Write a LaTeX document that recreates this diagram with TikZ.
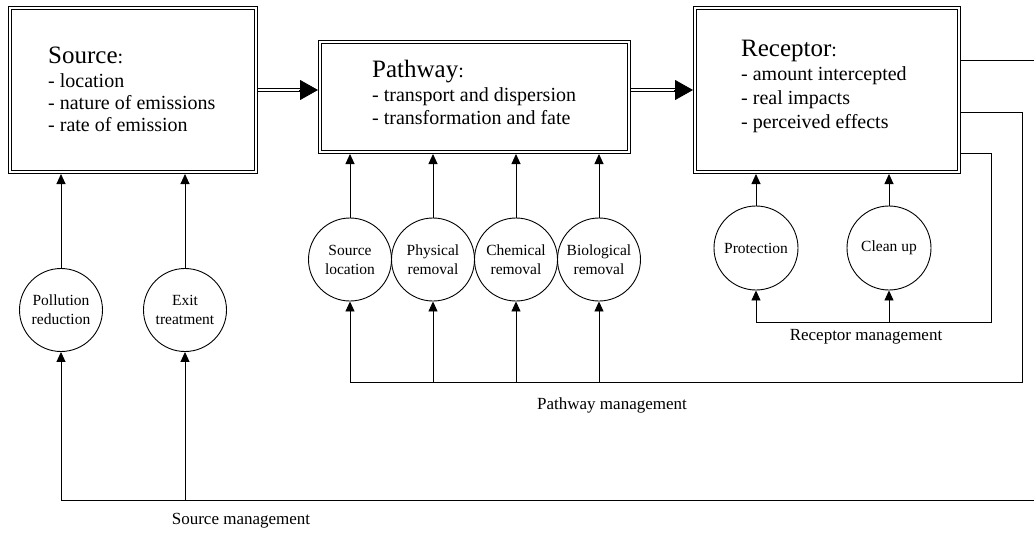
\documentclass[tikz,border=0pt]{standalone}
\usepackage{fontspec}
\setmainfont{Liberation Serif}
\usetikzlibrary{arrows.meta}
\tikzset{
 box/.style={draw, double, double distance=2pt, line width=1pt, inner sep=0pt, outer sep=2pt},
 circ/.style={draw, circle, line width=0.9pt, minimum size=83pt, inner sep=0pt, align=center, font=\fontsize{15.5}{19}\selectfont},
 conn/.style={line width=0.9pt},
 arr/.style={conn, -{Triangle[length=10pt,width=9pt]}},
 bigtip/.style={line width=0.8pt, -{Triangle[length=18pt,width=20pt]}},
 dbl/.style={line width=0.8pt, double, double distance=2.2pt},
 head/.style={anchor=base west, font=\fontsize{25}{30}\selectfont, inner sep=0pt},
 item/.style={anchor=base west, font=\fontsize{20}{24}\selectfont, inner sep=0pt},
 lab/.style={font=\fontsize{17}{20}\selectfont, inner sep=0pt},
}
\begin{document}
\begin{tikzpicture}[x=1pt,y=-1pt]
\useasboundingbox (0,0) rectangle (1034,533);
% boxes
\node[box, minimum width=246pt, minimum height=164pt] (src) at (133,90) {};
\node[box, minimum width=309pt, minimum height=110pt] (pw) at (474.5,97) {};
\node[box, minimum width=264pt, minimum height=164pt] (rec) at (827,90) {};
% box texts
\node[head] (srch) at (48,63) {Source{\fontsize{20}{24}\selectfont:}};
\node[item] (src1) at (48,87) {- location};
\node[item] (src2) at (48,109) {- nature of emissions};
\node[item] (src3) at (48,131) {- rate of emission};
\node[head] (pwh) at (372,77) {Pathway{\fontsize{20}{24}\selectfont:}};
\node[item] (pw1) at (372,101) {- transport and dispersion};
\node[item] (pw2) at (372,124) {- transformation and fate};
\node[head] (rech) at (741,56) {Receptor{\fontsize{20}{24}\selectfont:}};
\node[item] (rec1) at (741,80) {- amount intercepted};
\node[item] (rec2) at (741,104) {- real impacts};
\node[item] (rec3) at (741,128) {- perceived effects};
% main arrows
\draw[dbl] (src.east) -- ([xshift=-17pt]src.east -| pw.west);
\draw[bigtip] ([xshift=-19pt]src.east -| pw.west) -- (src.east -| pw.west);
\draw[dbl] (pw.east |- rec.west) -- ([xshift=-17pt]rec.west);
\draw[bigtip] ([xshift=-19pt]rec.west) -- (rec.west);
% circles
\node[circ] (pr) at (61,310) {Pollution\\reduction};
\node[circ] (et) at (185,310) {Exit\\treatment};
\node[circ] (sl) at (350,259.5) {Source\\location};
\node[circ] (phr) at (433,259.5) {Physical\\removal};
\node[circ] (chr) at (516,259.5) {Chemical\\removal};
\node[circ] (bir) at (599,259.5) {Biological\\removal};
\node[circ, minimum size=84pt] (prot) at (756,248) {Protection};
\node[circ, minimum size=84pt] (cu) at (889,248) {Clean up};
% arrows circles -> boxes
\foreach \c/\b in {pr/src, et/src, sl/pw, phr/pw, chr/pw, bir/pw, prot/rec, cu/rec}
  \draw[arr] (\c.north) -- (\c.north |- \b.south);
% source management
\coordinate (smL) at (61,500);
\coordinate (smR) at (1034,500);
\draw[conn] (smR) -- (smL);
\draw[arr] (smL) -- (pr.south);
\draw[arr] (et.south |- smL) -- (et.south);
% top line
\coordinate (topR) at (1034,60);
\draw[conn] (rec.east |- topR) -- (topR);
% pathway management
\coordinate (pmT) at (1022,112);
\coordinate (pmR) at (1022,382);
\draw[conn] (rec.east |- pmT) -- (pmT) -- (pmR) -- (sl.south |- pmR);
\foreach \c in {sl,phr,chr,bir}
  \draw[arr] (\c.south |- pmR) -- (\c.south);
% receptor management
\coordinate (rmT) at (991,153);
\coordinate (rmR) at (991,322);
\draw[conn] (rec.east |- rmT) -- (rmT) -- (rmR) -- (prot.south |- rmR);
\foreach \c in {prot,cu}
  \draw[arr] (\c.south |- rmR) -- (\c.south);
% labels
\node[lab] (sml) at (241,521) {Source management};
\node[lab] (pml) at (612,405) {Pathway management};
\node[lab] (rml) at (866,337) {Receptor management};
\end{tikzpicture}
\end{document}
